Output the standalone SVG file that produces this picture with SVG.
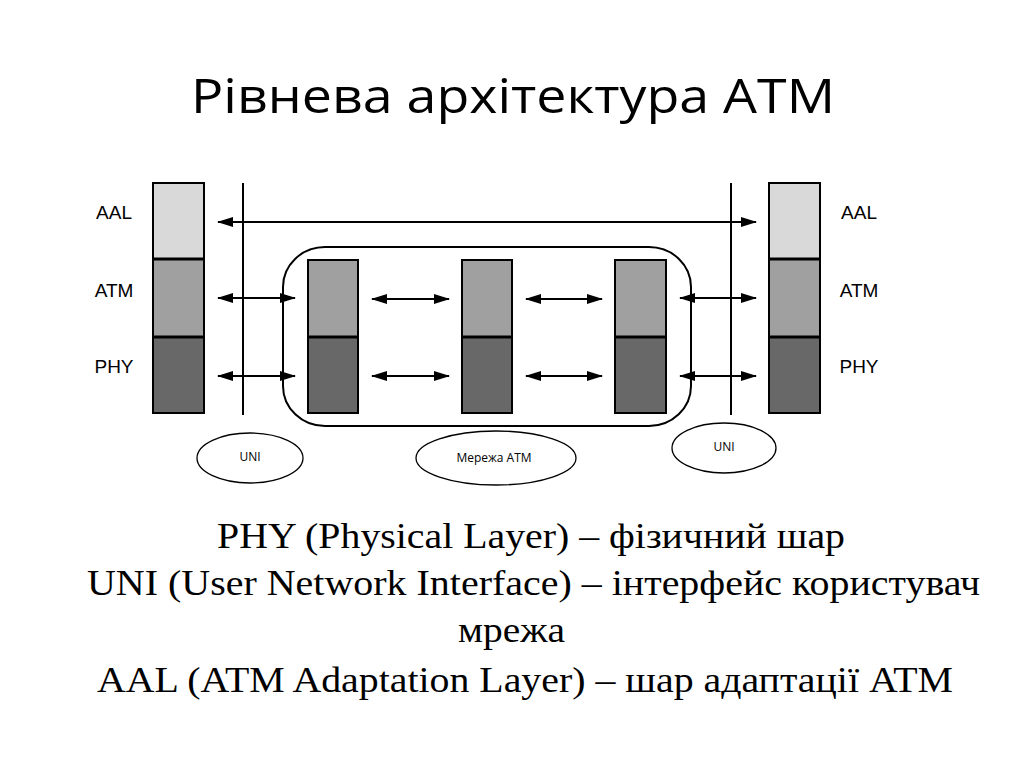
<svg xmlns="http://www.w3.org/2000/svg" width="1024" height="767" viewBox="0 0 1024 767">
<style>
.bg{fill:#fff}
.aal{fill:#d9d9d9;stroke:#000;stroke-width:2}
.atm{fill:#a0a0a0;stroke:#000;stroke-width:2}
.phy{fill:#686868;stroke:#000;stroke-width:2}
.ln{stroke:#000;stroke-width:2;fill:none}
.arr{stroke:#000;stroke-width:2;fill:none;marker-start:url(#ah);marker-end:url(#ah)}
.lbl{font-family:"Liberation Sans",Arial,sans-serif;font-size:19px;fill:#000;text-anchor:middle}
.sm{font-family:"Open Sans","Noto Sans",sans-serif;font-size:12px;fill:#000;text-anchor:middle}
.ttl{font-family:"Open Sans","Noto Sans",sans-serif;font-size:48px;fill:#000}
.body{font-family:"Liberation Serif","Times New Roman",serif;font-size:36px;fill:#000}
.ell{fill:none;stroke:#000;stroke-width:1.3}
</style>
<defs>
<marker id="ah" viewBox="0 0 16 10" refX="15" refY="5" markerWidth="16" markerHeight="10" markerUnits="userSpaceOnUse" orient="auto-start-reverse">
<path d="M0,0 L16,5 L0,10 z" fill="#000"/>
</marker>
</defs>
<rect class="bg" x="0" y="0" width="1024" height="767"/>
<text class="ttl" x="191" y="113" textLength="644" lengthAdjust="spacingAndGlyphs">Рівнева архітектура АТМ</text>

<g id="network">
<rect class="ln" x="283" y="247" width="408" height="179" rx="42" ry="40"/>
</g>

<g id="stack-left">
<rect class="aal" x="153" y="183" width="51" height="76"/>
<rect class="atm" x="153" y="259" width="51" height="78"/>
<rect class="phy" x="153" y="337" width="51" height="76"/>
<line x1="153" y1="259" x2="204" y2="259" stroke="#000" stroke-width="3"/>
<line x1="153" y1="337" x2="204" y2="337" stroke="#000" stroke-width="3"/>
<text class="lbl" x="114" y="219">AAL</text>
<text class="lbl" x="114" y="297">ATM</text>
<text class="lbl" x="114" y="373">PHY</text>
</g>

<g id="stack-right">
<rect class="aal" x="769" y="183" width="51" height="76"/>
<rect class="atm" x="769" y="259" width="51" height="78"/>
<rect class="phy" x="769" y="337" width="51" height="76"/>
<line x1="769" y1="259" x2="820" y2="259" stroke="#000" stroke-width="3"/>
<line x1="769" y1="337" x2="820" y2="337" stroke="#000" stroke-width="3"/>
<text class="lbl" x="859" y="219">AAL</text>
<text class="lbl" x="859" y="297">ATM</text>
<text class="lbl" x="859" y="373">PHY</text>
</g>

<g id="switch-1">
<rect class="atm" x="308" y="260" width="50" height="77"/>
<rect class="phy" x="308" y="337" width="50" height="76"/>
<line x1="308" y1="337" x2="358" y2="337" stroke="#000" stroke-width="3"/>
</g>
<g id="switch-2">
<rect class="atm" x="462" y="260" width="50" height="77"/>
<rect class="phy" x="462" y="337" width="50" height="76"/>
<line x1="462" y1="337" x2="512" y2="337" stroke="#000" stroke-width="3"/>
</g>
<g id="switch-3">
<rect class="atm" x="615" y="260" width="51" height="77"/>
<rect class="phy" x="615" y="337" width="51" height="76"/>
<line x1="615" y1="337" x2="666" y2="337" stroke="#000" stroke-width="3"/>
</g>

<g id="connectors">
<line class="ln" x1="243" y1="183" x2="243" y2="415"/>
<line class="ln" x1="731" y1="183" x2="731" y2="415"/>
<line class="arr" x1="218" y1="222" x2="756" y2="222"/>
<line class="arr" x1="218" y1="298" x2="295" y2="298"/>
<line class="arr" x1="218" y1="376" x2="295" y2="376"/>
<line class="arr" x1="372" y1="299" x2="449" y2="299"/>
<line class="arr" x1="372" y1="376" x2="449" y2="376"/>
<line class="arr" x1="526" y1="299" x2="602" y2="299"/>
<line class="arr" x1="526" y1="376" x2="602" y2="376"/>
<line class="arr" x1="680" y1="298" x2="756" y2="298"/>
<line class="arr" x1="680" y1="376" x2="756" y2="376"/>
</g>

<g id="uni-left">
<ellipse class="ell" cx="250" cy="458" rx="53" ry="25"/>
<text class="sm" x="250" y="461">UNI</text>
</g>
<g id="atm-net">
<ellipse class="ell" cx="496" cy="458" rx="80" ry="27"/>
<text class="sm" x="494" y="462">Мережа АТМ</text>
</g>
<g id="uni-right">
<ellipse class="ell" cx="724" cy="448" rx="52" ry="25"/>
<text class="sm" x="724" y="451">UNI</text>
</g>

<g id="legend">
<text class="body" x="217" y="548" textLength="628" lengthAdjust="spacingAndGlyphs">PHY (Physical Layer) – фізичний шар</text>
<text class="body" x="87" y="595" textLength="893" lengthAdjust="spacingAndGlyphs">UNI (User Network Interface) – інтерфейс користувач</text>
<text class="body" x="458" y="642" textLength="107" lengthAdjust="spacingAndGlyphs">мрежа</text>
<text class="body" x="97" y="692" textLength="856" lengthAdjust="spacingAndGlyphs">AAL (ATM  Adaptation Layer) – шар адаптації ATM</text>
</g>
</svg>
